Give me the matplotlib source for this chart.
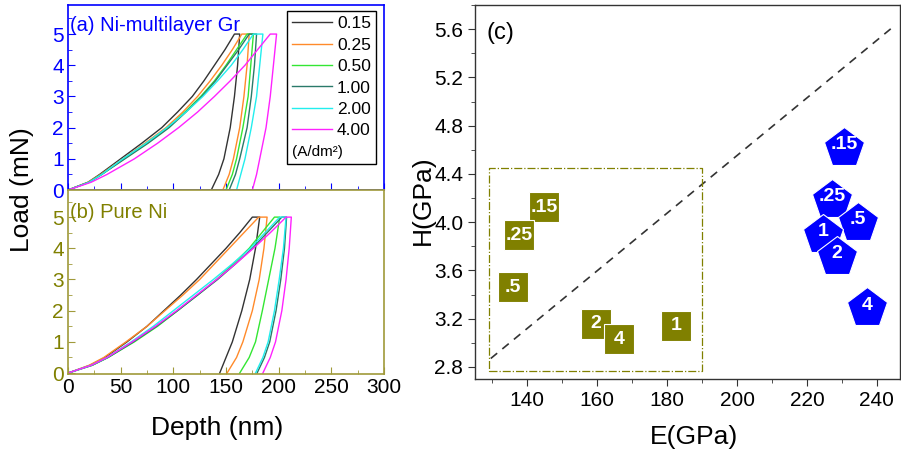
import matplotlib
matplotlib.use("Agg")
import matplotlib.pyplot as plt
from matplotlib.ticker import MultipleLocator

plt.rcParams['font.family'] = ['Liberation Sans', 'DejaVu Sans']

# =========================
# DATA
# =========================

labels = ['0.15', '0.25', '0.50', '1.00', '2.00', '4.00']
colors = ['#333333', '#ff8a2a', '#33e633', '#2a7a6a', '#22eeee', '#ff22ff']

# loading branch: depth (nm) read at these loads (mN)
load_up = [0, 0.25, 0.5, 1, 1.5, 2, 2.5, 3, 3.5, 4, 4.5, 5]
# unloading branch: depth (nm) read at these loads (mN)
load_down = [5, 4, 3, 2, 1, 0.5, 0]

# (a) Ni-multilayer Gr
gr_up = [
    [0, 19, 30, 50, 70, 89, 104, 118, 129, 139, 149, 158],
    [0, 19, 31, 52, 73, 93, 109, 123, 135, 146, 156, 165],
    [0, 20, 32, 53, 75, 95, 111, 126, 139, 150, 160, 170],
    [0, 20, 32, 54, 76, 96, 112, 127, 140, 151, 162, 172],
    [0, 20, 32, 52, 74, 94, 112, 128, 142, 155, 166, 176],
    [0, 22, 37, 63, 85, 105, 123, 139, 154, 168, 180, 192],
]
gr_down = [
    [163, 161, 158, 154, 148, 143, 136],
    [172, 170, 167, 163, 157, 153, 147],
    [176, 173.5, 171, 166, 160, 156, 150],
    [179, 177, 174, 170, 163, 159, 153],
    [185, 182, 179, 174, 168, 164, 160],
    [198, 195, 192, 188, 182, 179, 175],
]

# (b) Pure Ni
ni_up = [
    [0, 21, 35, 56, 75, 91, 107, 122, 136, 150, 163, 175],
    [0, 20, 34, 55, 75, 92, 109, 125, 139, 153, 167, 181],
    [0, 23, 38, 63, 85, 104, 123, 141, 157, 172, 184, 196],
    [0, 23, 38, 62, 84, 104, 123, 142, 159, 175, 189, 203],
    [0, 22, 37, 60, 81, 100, 119, 138, 156, 173, 187, 201],
    [0, 22, 37, 61, 83, 103, 122, 141, 159, 176, 192, 207],
]
ni_down = [
    [182, 178, 172.5, 165, 156, 150, 144],
    [189, 186, 181.5, 175, 166, 160, 151],
    [201, 196.5, 190.5, 184.5, 178, 172, 163],
    [207.5, 205.5, 202, 197.5, 191.5, 186.5, 179.5],
    [207, 204.5, 200.5, 196, 190, 185, 178],
    [212, 210, 207, 203, 197, 192, 185],
]

# (c) hardness vs modulus
tags = ['.15', '.25', '.5', '1', '2', '4']
ni_E = [144.9, 137.7, 136.0, 182.6, 159.7, 166.3]
ni_H = [4.125, 3.89, 3.46, 3.14, 3.16, 3.03]
gr_E = [230.6, 227.3, 234.6, 224.6, 228.6, 237.1]
gr_H = [4.64, 4.21, 4.02, 3.92, 3.74, 3.31]

guide_E = [129.6, 245.1]
guide_H = [2.87, 5.63]

box_E = [129.1, 190.0]
box_H = [2.77, 4.45]

BLUE = '#0000ff'
OLIVE = '#808000'
OLIVE_LINE = '#a09a3a'

# =========================
# FIGURE
# =========================

fig = plt.figure(figsize=(9.01, 4.59), dpi=100)

ax_a = fig.add_axes([0.0755, 0.586, 0.3507, 0.403])
ax_b = fig.add_axes([0.0755, 0.1852, 0.3507, 0.4009])
ax_c = fig.add_axes([0.5272, 0.1743, 0.4717, 0.8148])

# =========================
# PANEL (a)
# =========================

for i in range(len(labels)):
    ax_a.plot(gr_up[i] + gr_down[i], load_up + load_down,
              color=colors[i], lw=1.0, label=labels[i])

ax_a.set_xlim(0, 300)
ax_a.set_ylim(0, 5.93)
ax_a.xaxis.set_major_locator(MultipleLocator(50))
ax_a.xaxis.set_minor_locator(MultipleLocator(25))
ax_a.yaxis.set_major_locator(MultipleLocator(1))
ax_a.yaxis.set_minor_locator(MultipleLocator(0.5))
ax_a.tick_params(which='both', direction='in', color=BLUE, labelcolor=BLUE,
                 labelsize=15, labelbottom=False, pad=3)
ax_a.tick_params(which='major', length=5)
ax_a.tick_params(which='minor', length=3)
for s in ax_a.spines.values():
    s.set_color(BLUE)
    s.set_linewidth(1.2)

ax_a.text(0.006, 0.89, '(a) Ni-multilayer Gr', transform=ax_a.transAxes,
          color=BLUE, fontsize=14.5, va='center', ha='left')

leg = ax_a.legend(loc='upper right', bbox_to_anchor=(0.975, 0.968),
                  borderaxespad=0, fontsize=12.5, handlelength=2.3,
                  handletextpad=0.3, labelspacing=0.36, borderpad=0.3,
                  fancybox=False, framealpha=1, edgecolor='black',
                  title='(A/dm²)', title_fontsize=11, alignment='left')
leg.get_frame().set_linewidth(1.0)
# put the unit below the entries
leg._legend_box._children = leg._legend_box._children[::-1]

# =========================
# PANEL (b)
# =========================

for i in range(len(labels)):
    ax_b.plot(ni_up[i] + ni_down[i], load_up + load_down,
              color=colors[i], lw=1.0)

ax_b.set_xlim(0, 300)
ax_b.set_ylim(-0.03, 5.87)
ax_b.xaxis.set_major_locator(MultipleLocator(50))
ax_b.xaxis.set_minor_locator(MultipleLocator(25))
ax_b.yaxis.set_major_locator(MultipleLocator(1))
ax_b.yaxis.set_minor_locator(MultipleLocator(0.5))
ax_b.tick_params(which='both', direction='in', color=OLIVE_LINE, labelsize=15, pad=3)
ax_b.tick_params(axis='y', labelcolor=OLIVE)
ax_b.tick_params(axis='x', labelcolor='black')
ax_b.tick_params(which='major', length=5)
ax_b.tick_params(which='minor', length=3)
for s in ax_b.spines.values():
    s.set_color(OLIVE_LINE)
    s.set_linewidth(1.2)

ax_b.text(0.006, 0.88, '(b) Pure Ni', transform=ax_b.transAxes,
          color=OLIVE, fontsize=14.5, va='center', ha='left')

fig.text(22 / 901, 1 - 190 / 459, 'Load (mN)', rotation=90,
         fontsize=19, ha='center', va='center')
fig.text(217 / 901, 1 - 428 / 459, 'Depth (nm)',
         fontsize=19, ha='center', va='center')

# =========================
# PANEL (c)
# =========================

ax_c.plot(guide_E, guide_H, color='#333333', lw=1.2, ls=(0, (5, 4)), zorder=2)

ax_c.plot([box_E[0], box_E[1], box_E[1], box_E[0], box_E[0]],
          [box_H[0], box_H[0], box_H[1], box_H[1], box_H[0]],
          color=OLIVE, lw=0.9, ls='-.', zorder=2)

z = 3
for i in range(len(tags)):
    ax_c.plot(ni_E[i], ni_H[i], marker='s', ms=22, color=OLIVE,
              mec='white', mew=0.8, zorder=z)
    ax_c.text(ni_E[i], ni_H[i], tags[i], color='white', fontsize=14,
              fontweight='bold', ha='center', va='center', zorder=z + 0.5)
    z += 1

for i in range(len(tags)):
    # pentagon centre sits a little below the label centre
    ax_c.plot(gr_E[i], gr_H[i] - 0.025, marker='p', ms=30, color=BLUE,
              mec='white', mew=0.8, zorder=z)
    ax_c.text(gr_E[i], gr_H[i], tags[i], color='white', fontsize=14,
              fontweight='bold', ha='center', va='center', zorder=z + 0.5)
    z += 1

ax_c.set_xlim(125.1, 246.6)
ax_c.set_ylim(2.7, 5.8)
ax_c.xaxis.set_major_locator(MultipleLocator(20))
ax_c.xaxis.set_minor_locator(MultipleLocator(10))
ax_c.yaxis.set_major_locator(MultipleLocator(0.4))
ax_c.yaxis.set_minor_locator(MultipleLocator(0.2))
ax_c.tick_params(which='both', direction='out', color='#333333', labelsize=15)
ax_c.tick_params(which='major', length=5)
ax_c.tick_params(which='minor', length=3)
for s in ax_c.spines.values():
    s.set_color('#333333')
    s.set_linewidth(1.0)

ax_c.text(0.026, 0.925, '(c)', transform=ax_c.transAxes,
          fontsize=17, va='center', ha='left')

fig.text(423 / 901, 1 - 200 / 459, 'H(GPa)', rotation=90,
         fontsize=19, ha='center', va='center')
fig.text(694 / 901, 1 - 437 / 459, 'E(GPa)',
         fontsize=19, ha='center', va='center')

plt.savefig("out.png", dpi=100)
plt.close()
